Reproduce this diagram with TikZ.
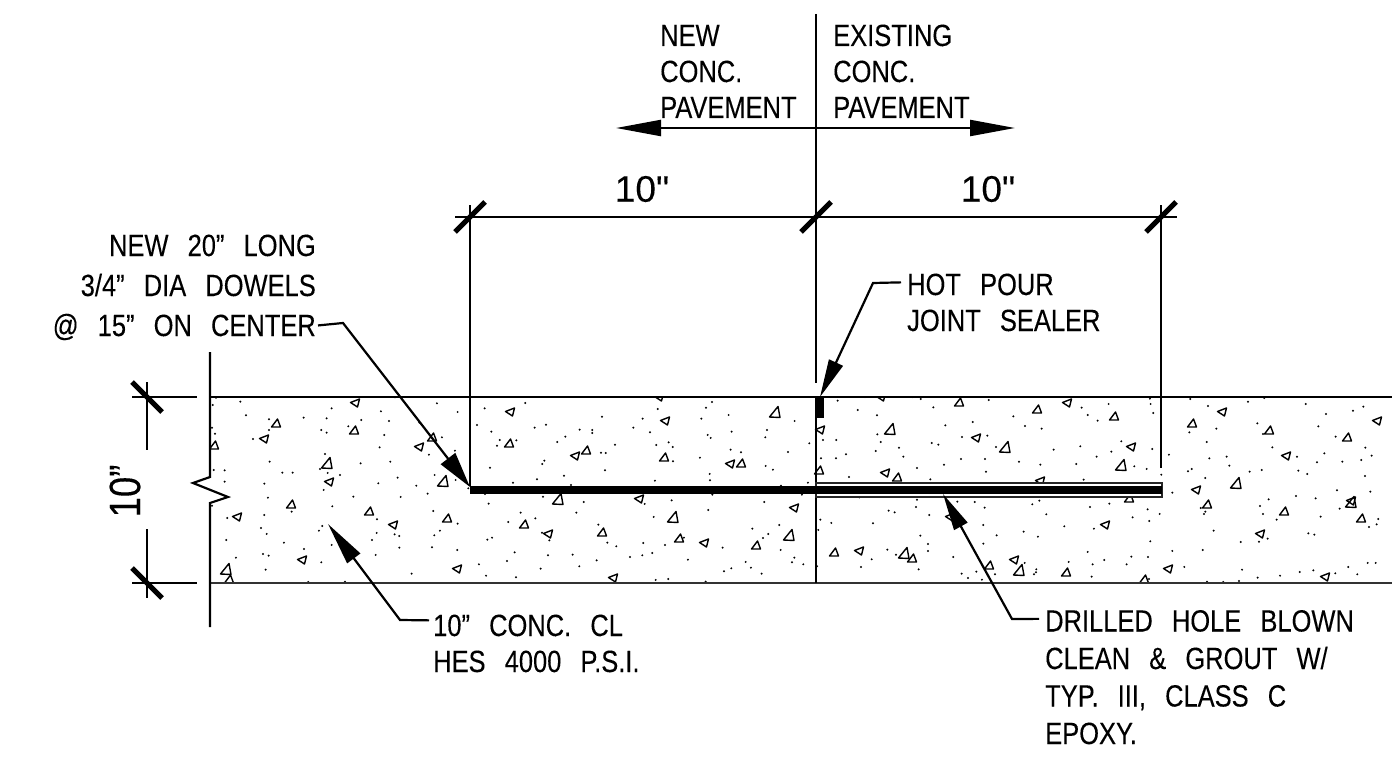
\documentclass[tikz,border=0pt]{standalone}
\usepackage{fontspec}
\usetikzlibrary{arrows.meta}
\newfontfamily\notefont[FakeStretch=0.83,FakeBold=0.15,WordSpace=2.7]{Liberation Sans}
\newfontfamily\dimfont[FakeBold=0.1]{Liberation Sans}
\tikzset{
  note/.style={font=\notefont\fontsize{30.7}{#1}\selectfont,align=left,inner sep=0pt},
  dimtext/.style={font=\dimfont\fontsize{37}{40}\selectfont,inner sep=0pt},
  dimline/.style={line width=2.2pt},
  slash/.style={line width=5pt},
  leader/.style={line width=2.2pt},
  aggr/.style={line width=1.4pt,line join=round}
}
\begin{document}
\begin{tikzpicture}[x=1pt,y=-1pt]
\useasboundingbox (0,0) rectangle (1392,757);

\coordinate (slabtl) at (210,397);
\coordinate (slabtr) at (1392,397);
\coordinate (slabbl) at (210,583);
\coordinate (slabbr) at (1392,583);

% aggregate
\begin{scope}
\clip (slabtl) rectangle (slabbr);
\foreach \x/\y in {276/423,354/430,214/445,291/504,369/511,447/518,432/437,229/579,509/443,586/450,664/457,741/463,819/470,524/524,602/532,679/538,756/545,959/402,1037/409,1114/416,897/477,1129/498,834/552,912/558,989/565,1066/572,1144/579,1192/423,1269/430,1347/437,1207/504,1284/511,1361/518}
\draw[aggr] (\x-4.5,\y+4) -- (\x+4.5,\y+4) -- (\x+1.5,\y-4) -- cycle;
\foreach \x/\y in {327/463,443/481,226/569,775/412,558/499,673/517,789/535,890/429,1005/447,1121/465,904/553,1019/570,1236/483,1351/502}
\draw[aggr] (\x-5.5,\y+5) -- (\x+5,\y+5.5) -- (\x+3,\y-5.5) -- cycle;
\foreach \x/\y in {355/403,264/439,329/482,237/517,393/525,419/447,302/560,457/569,510/412,575/456,665/421,730/464,820/430,639/499,794/508,548/534,704/543,613/578,659/397,881/397,1067/403,976/438,1131/447,885/473,1040/481,950/517,1105/525,859/551,1014/560,1168/569,1222/412,1377/421,1286/456,1196/490,1351/501,1260/534,1325/577}
\draw[aggr] (\x-4.5,\y-0.5) -- (\x+4.5,\y-4) -- (\x+2.5,\y+4) -- cycle;

\begin{scope}[shift={(120,380)},x=0.3333pt,y=-0.3333pt]
\foreach \x/\y in {288/53,278/75,361/65,378/106,447/118,447/150,399/177,285/161,276/143,551/113,620/115,635/85,604/150,620/158,685/139,724/120,783/94,807/123,793/165,779/202,722/250,811/245,615/222,449/245,487/278,518/278,600/267,623/279,660/285,281/270,314/271,314/305,433/311,444/353,611/330,775/310,833/293,889/317,923/341,842/351,700/350,637/379,433/405,515/395,276/377,322/414,423/444,440/462,319/480,492/488,597/452,607/438,771/418,770/459,824/463,838/468,756/480,838/503,635/495,552/507,429/522,446/527,348/533,437/569,604/547,767/525,875/581,936/502,940/393,1013/431,960/452,943/466,1012/510,1077/553,951/70,1013/96,1071/135,966/172,927/224,1005/212,944/285,1007/300,1045/325,898/128,825/52,565/606,675/605}
\fill (\x,\y) circle (1.1pt);
\end{scope}
\begin{scope}[shift={(480,380)},x=0.3333pt,y=-0.3333pt]
\foreach \x/\y in {14/85,136/69,34/155,59/180,51/197,109/181,30/263,99/308,171/298,164/143,198/134,232/186,256/170,299/149,337/150,337/159,366/110,405/194,363/218,377/219,375/271,252/287,193/242,187/252,273/315,488/116,460/143,510/157,533/87,529/195,566/187,578/201,579/244,525/302,664/116,678/83,696/66,683/165,692/174,746/105,755/155,752/209,783/217,660/233,689/282,690/301,857/258,879/269,856/172,861/150,924/216,944/123,988/190,984/308,903/317,15/342,26/371,189/350,122/398,85/426,166/415,186/458,208/481,22/479,36/473,104/517,81/543,18/587,108/592,182/566,204/526,278/524,298/559,350/541,289/398,311/366,355/434,382/488,409/499,490/489,517/519,487/526,450/531,555/495,624/539,521/411,494/372,575/361,612/473,685/390,697/344,728/503,817/446,849/474,865/462,898/435,853/366,966/344,902/510,943/533,936/547,970/553,797/546,813/563,845/581,754/565,732/574,677/605,527/600,565/597}
\fill (\x,\y) circle (1.1pt);
\end{scope}
\begin{scope}[shift={(810,380)},x=0.3333pt,y=-0.3333pt]
\foreach \x/\y in {83/62,143/90,201/106,39/180,79/180,33/235,78/235,108/223,117/291,148/352,31/419,64/429,25/450,21/559,153/561,185/538,232/509,258/524,189/430,236/392,254/397,202/163,212/186,197/213,267/203,280/230,321/264,361/298,321/359,318/381,358/405,331/467,354/492,354/513,326/568,370/82,406/136,488/126,536/60,610/109,645/138,695/146,456/171,532/167,558/201,365/189,385/194,402/254,453/237,525/237,528/275,627/245,691/254,731/209,811/199,799/252,860/230,904/215,934/184,815/83,833/105,863/122,896/72,1020/56,1022/72,1030/99,1027/207,973/259,1010/267,1054/284,1077/224,821/299,165/51,307/51,332/57,442/365,494/366,524/383,667/373,688/362,709/403,840/381,898/371,1013/388,968/412,1018/423,1049/402,520/435,560/466,520/491,641/455,684/470,763/439,852/446,1021/484,833/516,964/530,1014/531,883/540,848/553,950/553,776/546,845/590,430/531,644/549,679/568,678/577,672/583,555/583,499/575,455/581,474/594,516/599,1017/597}
\fill (\x,\y) circle (1.1pt);
\end{scope}
\begin{scope}[shift={(1150,380)},x=0.3333pt,y=-0.3333pt]
\foreach \x/\y in {121/57,174/78,294/65,343/54,467/72,528/102,609/92,640/80,505/139,557/170,646/203,665/227,634/240,577/245,523/220,501/247,441/230,445/272,472/282,645/288,322/130,339/162,367/202,199/146,118/157,170/186,178/235,230/230,238/257,299/275,335/270,125/267,114/274,166/294,67/338,152/384,166/395,162/402,356/358,330/378,339/402,380/419,438/348,497/355,512/410,561/331,661/335,569/386,685/417,680/433,657/441,191/452,353/476,327/485,272/486,475/460,493/464,158/510,67/513,103/561,276/569,323/593,390/587,449/576,490/571,556/580,595/561,622/583,653/549,677/549,171/605,220/606,267/603}
\fill (\x,\y) circle (1.1pt);
\end{scope}
\end{scope}

% slab
\draw[dimline] (slabtl) -- (slabtr);
\draw[line width=2.4pt,black!80] (slabbl) -- (slabbr);
\draw[dimline] (210,352) -- (210,477) -- (193,483) -- (228,497) -- (210,503) -- (210,627);

% joint, hole and dowel
\draw[line width=1.8pt] (816,418) -- (816,583);
\fill (815,397) rectangle (824,418);
\draw[line width=1.6pt,black!85,fill=white] (816,483) rectangle (1162,497);
\fill (470,486) rectangle (1162,494);

% dimensions on top
\coordinate (dimL) at (470,217);
\coordinate (dimM) at (816,217);
\coordinate (dimR) at (1161,217);
\draw[dimline] (455,217) -- (1177,217);
\draw[dimline] (470,205) -- (470,486);
\draw[dimline] (816,14) -- (816,383);
\draw[dimline] (1161,205) -- (1161,468);
\foreach \c in {dimL,dimM,dimR}
\draw[slash] (\c) ++(-15,15) -- ++(30,-30);
\node[dimtext] (dimtextL) at (642,189) {10"};
\node[dimtext] (dimtextR) at (988,189) {10"};

% dimension at the left
\coordinate (dimT) at (147,397);
\coordinate (dimB) at (147,583);
\draw[dimline] (132,397) -- (197,397);
\draw[dimline] (132,583) -- (197,583);
\draw[dimline] (147,382) -- (147,450);
\draw[dimline] (147,529) -- (147,598);
\foreach \c in {dimT,dimB}
\draw[slash] (\c) ++(-15,-15) -- ++(30,30);
\node[note={46},font=\notefont\fontsize{44}{46}\selectfont,rotate=90] (dimtextS) at (125,491) {10”};

% notes
\node[note={36},anchor=base west] (newnote) at (660,118) {NEW\\CONC.\\PAVEMENT};
\node[note={36},anchor=base west] (oldnote) at (833,118) {EXISTING\\CONC.\\PAVEMENT};
\node[note={40},align=right,anchor=base east] (dowelnote) at (316,336) {NEW 20” LONG\\3/4” DIA DOWELS\\@ 15” ON CENTER};
\node[note={36},anchor=base west] (sealnote) at (907,331) {HOT POUR\\JOINT SEALER};
\node[note={36},anchor=base west] (concnote) at (433,672) {10” CONC. CL\\HES 4000 P.S.I.};
\node[note={37.5},anchor=base west] (holenote) at (1045,744) {DRILLED HOLE BLOWN\\CLEAN \& GROUT W/\\TYP. III, CLASS C\\EPOXY.};

% arrows
\coordinate (newtip) at (616,128);
\coordinate (oldtip) at (1015,128);
\draw[dimline,{Triangle[length=45pt,width=16pt]}-{Triangle[length=45pt,width=16pt]}] (newtip) -- (oldtip);
\coordinate (doweltip) at (470,487);
\coordinate (sealtip) at (820,397);
\coordinate (conctip) at (328,524);
\coordinate (holetip) at (943,494);
\draw[leader,-{Triangle[length=36pt,width=18pt]}] ([shift={(2pt,15pt)}]dowelnote.south east) -- (343,323) -- (doweltip);
\draw[leader,-{Triangle[length=38pt,width=15pt]}] ([shift={(-6pt,-9pt)}]sealnote.north west) -- (873,283) -- (sealtip);
\draw[leader,-{Triangle[length=43pt,width=16pt]}] ([shift={(-4pt,-6pt)}]concnote.north west) -- (400,620) -- (conctip);
\draw[leader,-{Triangle[length=37pt,width=15pt]}] ([shift={(-6pt,-9pt)}]holenote.north west) -- (1012,619) -- (holetip);

\end{tikzpicture}
\end{document}
